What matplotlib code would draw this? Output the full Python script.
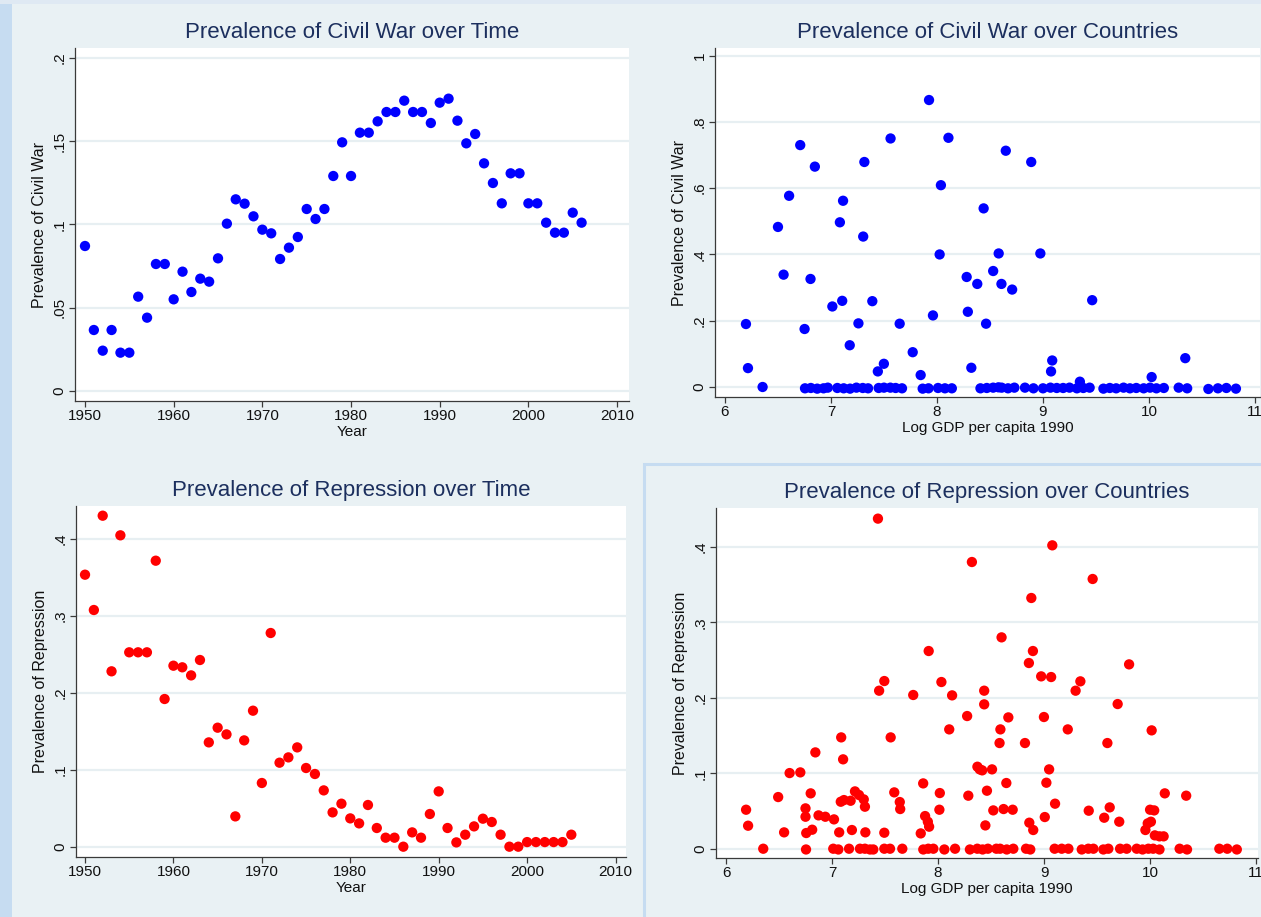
import matplotlib
matplotlib.use('Agg')
import matplotlib.pyplot as plt
from matplotlib.patches import Rectangle
from matplotlib.ticker import FuncFormatter

plt.rcParams['font.family'] = ['Liberation Sans', 'DejaVu Sans']

# ---------------- data ----------------
years_war = list(range(1950, 2007))
war_time = [0.087, 0.0366, 0.0242, 0.0366, 0.023, 0.023, 0.0566, 0.044, 0.0762, 0.0762,
            0.055, 0.0716, 0.0594, 0.0674, 0.0656, 0.0796, 0.1004, 0.115, 0.1124, 0.1048,
            0.0968, 0.0946, 0.0792, 0.086, 0.0924, 0.1092, 0.1032, 0.1092, 0.129, 0.1492,
            0.129, 0.155, 0.155, 0.1618, 0.1674, 0.1674, 0.1742, 0.1674, 0.1674, 0.1608,
            0.173, 0.1754, 0.1622, 0.1486, 0.1542, 0.1366, 0.1248, 0.1126, 0.1306, 0.1306,
            0.1126, 0.1126, 0.101, 0.095, 0.095, 0.107, 0.101]

years_rep = list(range(1950, 2006))
rep_time = [0.3536, 0.3077, 0.4303, 0.228, 0.4048, 0.2527, 0.2527, 0.2527, 0.3718, 0.192,
            0.2353, 0.2332, 0.2227, 0.2427, 0.1356, 0.1547, 0.146, 0.0394, 0.1382, 0.1768,
            0.0828, 0.2778, 0.1092, 0.1161, 0.1291, 0.1023, 0.0945, 0.0732, 0.0446, 0.0559,
            0.0368, 0.0303, 0.0542, 0.0243, 0.0117, 0.0117, 0.0, 0.0186, 0.0117, 0.0425,
            0.0719, 0.0243, 0.0056, 0.0156, 0.0264, 0.0364, 0.0321, 0.0156, 0.0, 0.0,
            0.006, 0.006, 0.006, 0.006, 0.006, 0.0156]

gdp_war = [6.198, 6.217, 6.50, 6.553, 6.605, 6.71, 6.751, 6.807, 6.848, 7.013,
           7.084, 7.106, 7.114, 7.177, 7.259, 7.304, 7.315, 7.390, 7.442, 7.499,
           7.562, 7.648, 7.771, 7.846, 7.925, 7.962, 8.025, 8.037, 8.108, 8.28,
           8.291, 8.324, 8.380, 8.440, 8.463, 8.53, 8.582, 8.608, 8.649, 8.709,
           8.889, 8.975, 9.076, 9.087, 9.348, 9.464, 10.025, 10.342,
           6.355, 6.755, 6.81, 6.87, 6.93, 6.97, 7.06, 7.12, 7.18, 7.24,
           7.30, 7.35, 7.45, 7.50, 7.56, 7.61, 7.67, 7.865, 7.92, 8.01,
           8.075, 8.14, 8.41, 8.47, 8.53, 8.58, 8.61, 8.67, 8.73, 8.83,
           8.91, 9.00, 9.07, 9.13, 9.19, 9.25, 9.32, 9.38, 9.44, 9.57,
           9.63, 9.69, 9.76, 9.82, 9.88, 9.95, 10.01, 10.07, 10.14, 10.28,
           10.36, 10.56, 10.65, 10.73, 10.82]
war_country = [0.190, 0.057, 0.483, 0.339, 0.577, 0.730, 0.175, 0.326, 0.665, 0.243,
               0.497, 0.260, 0.562, 0.126, 0.192, 0.454, 0.679, 0.259, 0.047, 0.070,
               0.750, 0.191, 0.105, 0.036, 0.866, 0.216, 0.400, 0.609, 0.752, 0.332,
               0.227, 0.058, 0.311, 0.539, 0.191, 0.350, 0.403, 0.311, 0.713, 0.294,
               0.679, 0.403, 0.047, 0.080, 0.016, 0.262, 0.030, 0.087,
               0.0, -0.004, -0.003, -0.005, -0.004, -0.002, -0.003, -0.004, -0.005, -0.002,
               -0.003, -0.004, -0.003, -0.002, -0.002, -0.003, -0.004, -0.005, -0.004, -0.003,
               -0.004, -0.004, -0.004, -0.003, -0.002, -0.001, -0.002, -0.004, -0.002, -0.002,
               -0.004, -0.004, -0.002, -0.003, -0.003, -0.002, -0.004, -0.003, -0.002, -0.005,
               -0.003, -0.004, -0.002, -0.004, -0.003, -0.004, -0.002, -0.004, -0.003, -0.002,
               -0.004, -0.006, -0.004, -0.003, -0.005]

gdp_rep = [6.187, 6.206, 6.49, 6.546, 6.598, 6.699, 6.748, 6.748, 6.755, 6.797,
           6.811, 6.841, 6.871, 6.935, 7.017, 7.066, 7.085, 7.081, 7.103, 7.111,
           7.174, 7.186, 7.215, 7.253, 7.298, 7.309, 7.313, 7.432, 7.443, 7.492,
           7.492, 7.552, 7.586, 7.638, 7.642, 7.765, 7.836, 7.859, 7.877, 7.903,
           7.915, 7.911, 8.016, 8.012, 8.031, 8.105, 8.132, 8.274, 8.285, 8.319,
           8.371, 8.393, 8.416, 8.435, 8.435, 8.446, 8.461, 8.509, 8.521, 8.58,
           8.588, 8.599, 8.618, 8.644, 8.663, 8.704, 8.82, 8.857, 8.861, 8.88,
           8.895, 8.898, 8.973, 8.999, 9.007, 9.022, 9.048, 9.067, 9.078, 9.104,
           9.224, 9.298, 9.343, 9.422, 9.459, 9.568, 9.598, 9.62, 9.695, 9.71,
           9.803, 9.957, 9.979, 10.009, 10.001, 10.016, 10.04, 10.046, 10.09, 10.129,
           10.14, 10.342,
           6.349, 6.753, 7.010, 7.058, 7.159, 7.262, 7.309, 7.357, 7.388, 7.492,
           7.546, 7.662, 7.860, 7.907, 7.955, 8.059, 8.16, 8.30, 8.37, 8.42,
           8.47, 8.55, 8.585, 8.648, 8.71, 8.83, 8.87, 9.10, 9.167, 9.23,
           9.356, 9.418, 9.466, 9.56, 9.607, 9.718, 9.78, 9.875, 9.93, 9.985,
           10.03, 10.09, 10.28, 10.35, 10.655, 10.73, 10.82]
rep_country = [0.0517, 0.0305, 0.0685, 0.0217, 0.1003, 0.1012, 0.0535, 0.0424, 0.0208, 0.0734,
               0.0252, 0.1277, 0.0442, 0.0424, 0.0389, 0.0217, 0.1476, 0.0623, 0.1185, 0.0645,
               0.0636, 0.0248, 0.076, 0.0712, 0.0654, 0.0557, 0.0217, 0.4376, 0.2095, 0.2223,
               0.0212, 0.1476, 0.0747, 0.0619, 0.0526, 0.2038, 0.0203, 0.0866, 0.0433, 0.0358,
               0.0292, 0.2621, 0.0738, 0.0517, 0.221, 0.1582, 0.2033, 0.1759, 0.0703, 0.3801,
               0.1087, 0.1052, 0.1039, 0.2095, 0.1914, 0.0309, 0.0769, 0.1052, 0.0508, 0.1401,
               0.1582, 0.2802, 0.0526, 0.0871, 0.1741, 0.0517, 0.1401, 0.2462, 0.0345, 0.3324,
               0.2621, 0.0248, 0.2285, 0.1746, 0.042, 0.0875, 0.1052, 0.2276, 0.4022, 0.0597,
               0.1582, 0.2095, 0.2219, 0.0504, 0.3576, 0.0411, 0.1401, 0.0548, 0.1918, 0.0358,
               0.2444, 0.0248, 0.0336, 0.0358, 0.0517, 0.1569, 0.0508, 0.0177, 0.0164, 0.0164,
               0.0734, 0.0703,
               0.0, -0.001, 0.0, -0.001, 0.0, 0.0, 0.0, -0.001, -0.001, 0.0,
               0.0, 0.0, -0.001, 0.0, 0.0, -0.001, 0.0, -0.001, 0.0, -0.001,
               0.0, 0.0, 0.0, -0.001, 0.0, 0.0, -0.001, 0.0, 0.0, 0.0,
               -0.001, 0.0, 0.0, -0.001, 0.0, 0.0, 0.0, 0.0, -0.001, 0.0,
               0.0, -0.001, 0.0, -0.001, 0.0, 0.0, -0.001]

# ---------------- styling ----------------
W, H = 1261, 917
BG = '#e9f1f4'
STRIP = '#c6dcf1'
TITLE_C = '#1c2f5e'
AX_C = '#3a3a3a'
GRID_C = '#e7eff2'

fig = plt.figure(figsize=(W / 100, H / 100), dpi=100, facecolor=BG)

# decorative strips / border
fig.patches.append(Rectangle((0, 0), 12 / W, 1, transform=fig.transFigure,
                             facecolor=STRIP, edgecolor='none', zorder=0))
fig.patches.append(Rectangle((0, 1 - 4 / H), 1, 4 / H, transform=fig.transFigure,
                             facecolor='#dfe9f3', edgecolor='none', zorder=0))
fig.patches.append(Rectangle((643.5 / W, -0.01), 1, (917 - 463.5) / H + 0.01,
                             transform=fig.transFigure, facecolor='none',
                             edgecolor=STRIP, linewidth=2.2, zorder=0))


def px_axes(l, t, r, b):
    return fig.add_axes([l / W, (H - b) / H, (r - l) / W, (b - t) / H])


def fmt(v, pos):
    if abs(v) < 1e-9:
        return '0'
    if abs(v - round(v)) < 1e-9:
        return str(int(round(v)))
    s = ('%g' % v)
    return s.lstrip('0') if s.startswith('0') else s


def style(ax, title, xlabel, ylabel, xticks, yticks, xlim, ylim):
    ax.set_facecolor('white')
    ax.set_xlim(*xlim)
    ax.set_ylim(*ylim)
    ax.set_xticks(xticks)
    ax.set_yticks(yticks)
    ax.yaxis.set_major_formatter(FuncFormatter(fmt))
    for sp in ['top', 'right']:
        ax.spines[sp].set_visible(False)
    for sp in ['left', 'bottom']:
        ax.spines[sp].set_color(AX_C)
        ax.spines[sp].set_linewidth(0.9)
    ax.tick_params(axis='both', direction='out', length=4, width=0.9, color=AX_C,
                   labelsize=11, labelcolor='#111111', pad=2)
    for lab in ax.get_yticklabels():
        lab.set_rotation(90)
        lab.set_va('center')
    ax.grid(axis='y', color=GRID_C, linewidth=1.6)
    ax.set_axisbelow(True)
    ax.set_title(title, fontsize=16, color=TITLE_C, pad=7)
    ax.set_xlabel(xlabel, fontsize=11, color='#111111', labelpad=1)
    ax.set_ylabel(ylabel, fontsize=11.5, color='#111111', labelpad=4)


MS = 55

ax1 = px_axes(74.7, 48, 628.6, 401)
ax1.scatter(years_war, war_time, s=MS, color='#0000ff', edgecolors='none', zorder=3)
style(ax1, 'Prevalence of Civil War over Time', 'Year', 'Prevalence of Civil War',
      range(1950, 2011, 10), [0, 0.05, 0.1, 0.15, 0.2], (1948.84, 2011.3), (-0.006, 0.2058))

ax2 = px_axes(715, 48, 1260, 397)
ax2.scatter(gdp_war, war_country, s=MS, color='#0000ff', edgecolors='none', zorder=3)
style(ax2, 'Prevalence of Civil War over Countries', 'Log GDP per capita 1990',
      'Prevalence of Civil War', range(6, 12), [0, 0.2, 0.4, 0.6, 0.8, 1.0],
      (5.906, 11.047), (-0.0302, 1.023))

ax3 = px_axes(76, 505.7, 625.7, 857)
ax3.scatter(years_rep, rep_time, s=MS, color='#ff0000', edgecolors='none', zorder=3)
style(ax3, 'Prevalence of Repression over Time', 'Year', 'Prevalence of Repression',
      range(1950, 2011, 10), [0, 0.1, 0.2, 0.3, 0.4], (1948.98, 2011.15), (-0.0134, 0.4433))

ax4 = px_axes(716, 508, 1258, 858)
ax4.scatter(gdp_rep, rep_country, s=MS, color='#ff0000', edgecolors='none', zorder=3)
style(ax4, 'Prevalence of Repression over Countries', 'Log GDP per capita 1990',
      'Prevalence of Repression', range(6, 12), [0, 0.1, 0.2, 0.3, 0.4],
      (5.903, 11.02), (-0.0123, 0.4517))

fig.savefig('out.png', dpi=100, facecolor=BG)
